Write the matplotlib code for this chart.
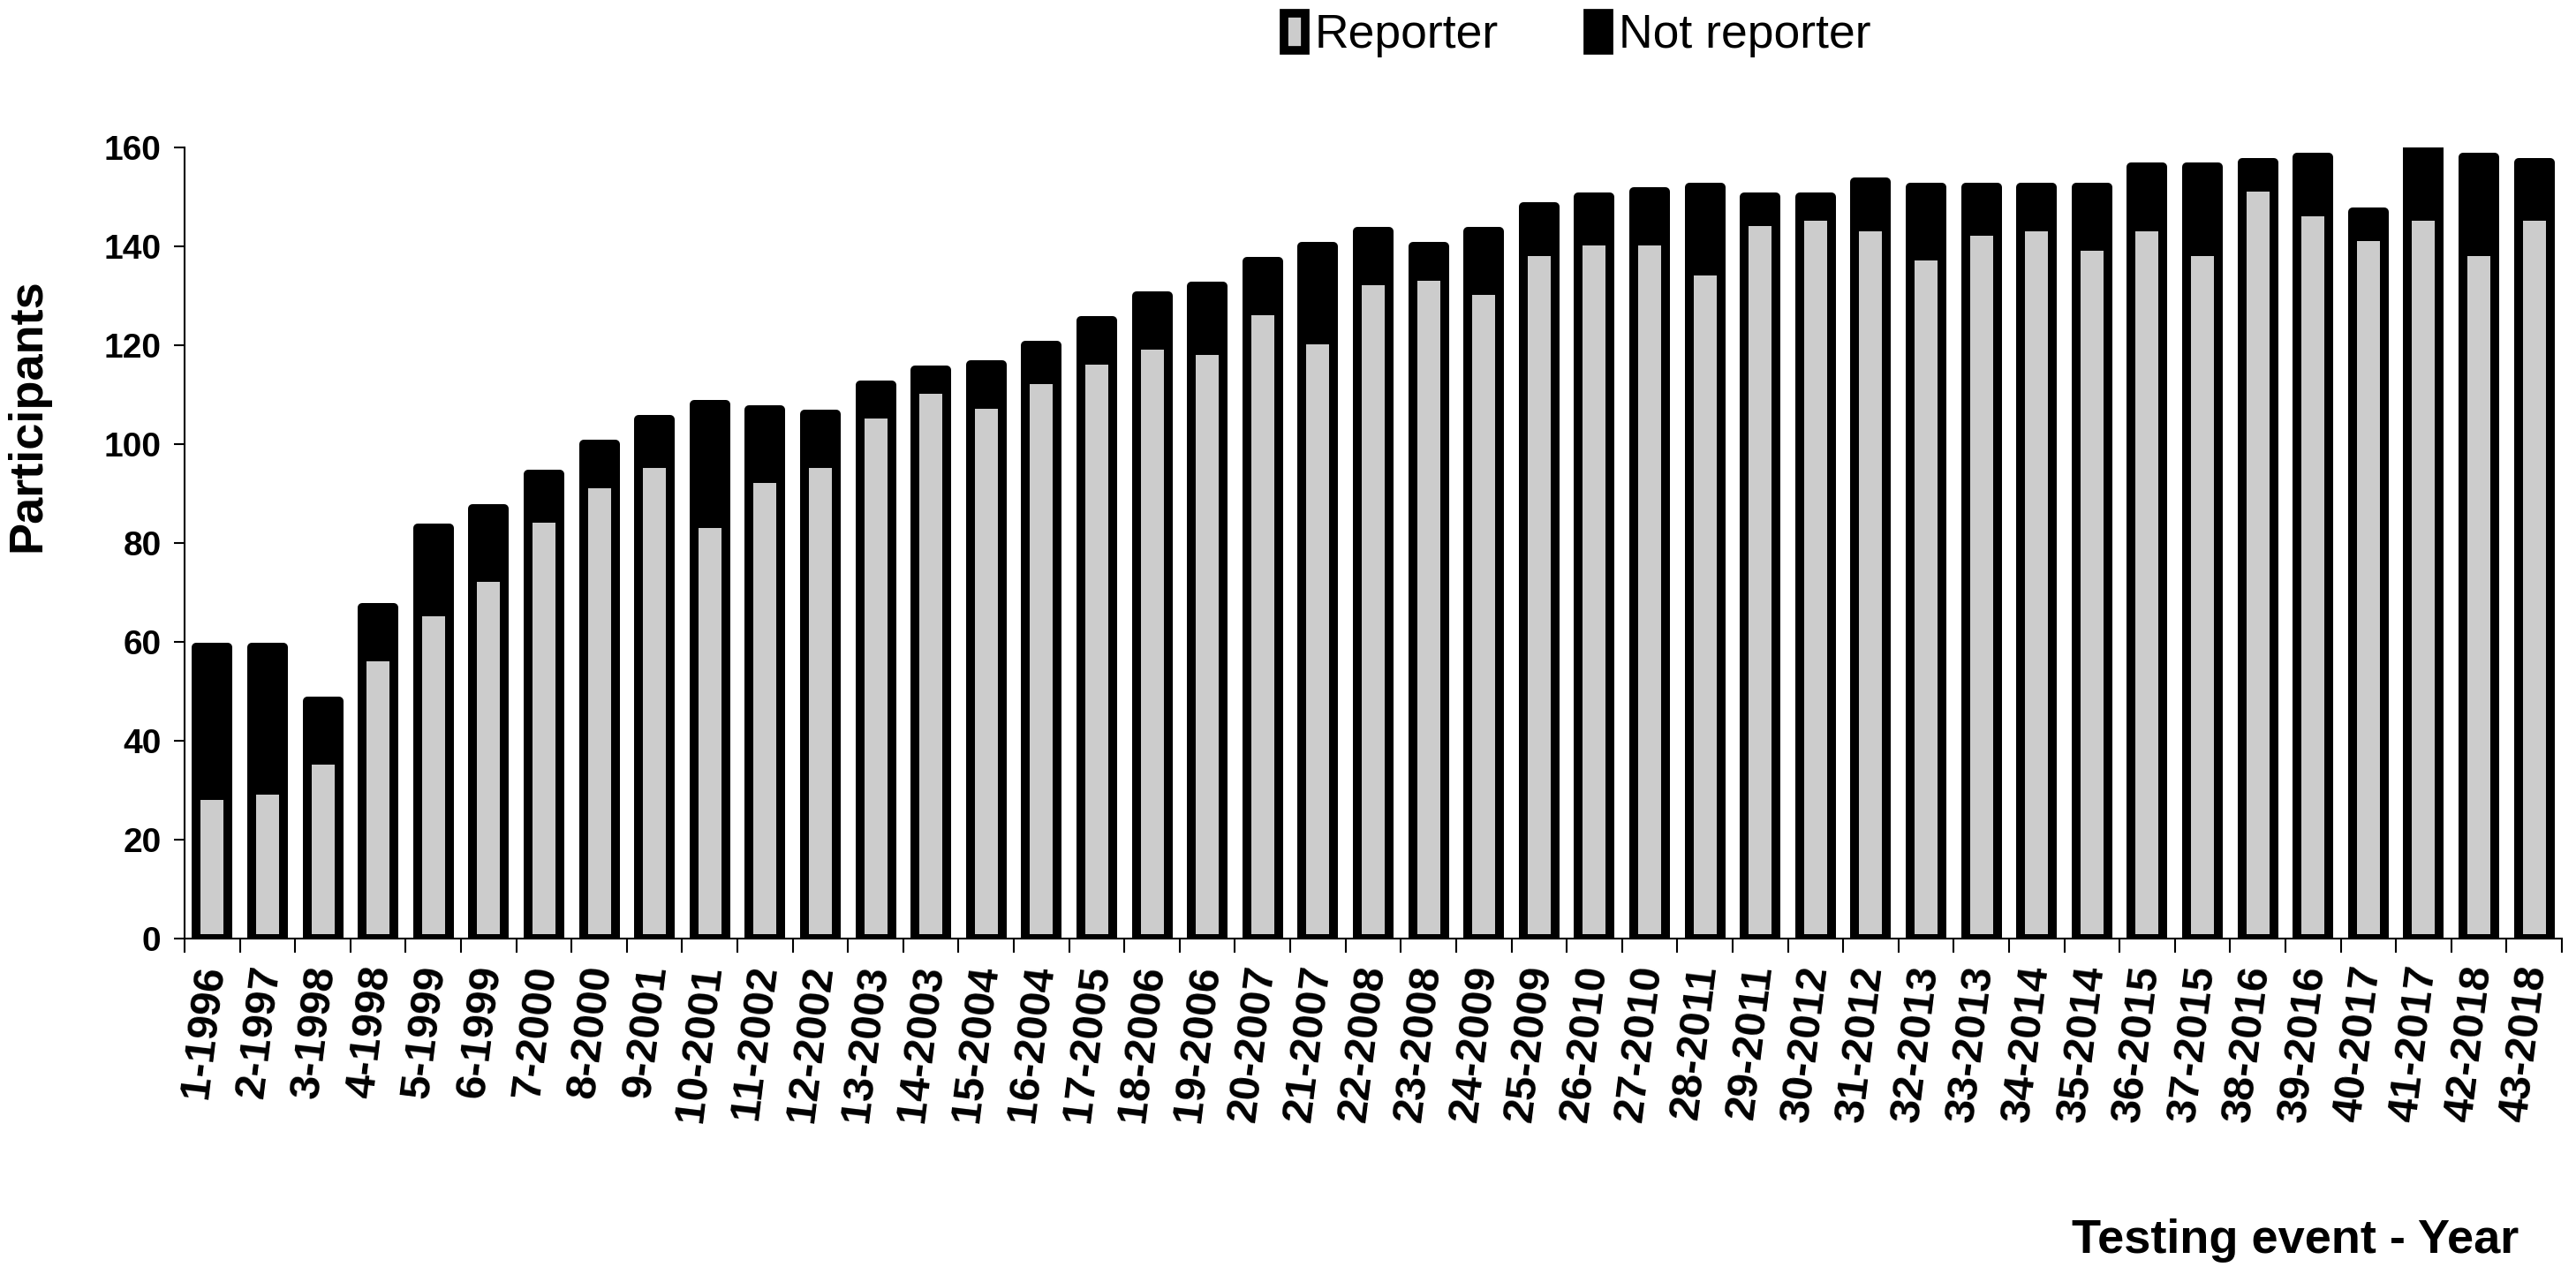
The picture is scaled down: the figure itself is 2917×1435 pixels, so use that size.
import matplotlib
matplotlib.use("Agg")
import matplotlib.pyplot as plt
from matplotlib.patches import Patch
import numpy as np

plt.rcParams['font.family'] = ['Liberation Sans', 'DejaVu Sans']

events = ["1-1996", "2-1997", "3-1998", "4-1998", "5-1999", "6-1999", "7-2000",
          "8-2000", "9-2001", "10-2001", "11-2002", "12-2002", "13-2003", "14-2003",
          "15-2004", "16-2004", "17-2005", "18-2006", "19-2006", "20-2007", "21-2007",
          "22-2008", "23-2008", "24-2009", "25-2009", "26-2010", "27-2010", "28-2011",
          "29-2011", "30-2012", "31-2012", "32-2013", "33-2013", "34-2014", "35-2014",
          "36-2015", "37-2015", "38-2016", "39-2016", "40-2017", "41-2017", "42-2018",
          "43-2018"]

# total participants per event
total = [59, 59, 48, 67, 83, 87, 94, 100, 105, 108, 107, 106, 112, 115,
         116, 120, 125, 130, 132, 137, 140, 143, 140, 143, 148, 150, 151, 152,
         150, 150, 153, 152, 152, 152, 152, 156, 156, 157, 158, 147, 161, 158,
         157]

# participants that reported results
reporter = [29, 30, 36, 57, 66, 73, 85, 92, 96, 84, 93, 96, 106, 111,
            108, 113, 117, 120, 119, 127, 121, 133, 134, 131, 139, 141, 141, 135,
            145, 146, 144, 138, 143, 144, 140, 144, 139, 152, 147, 142, 146, 139,
            146]

not_reporter = [t - r for t, r in zip(total, reporter)]

W, H = 2917, 1435
fig = plt.figure(figsize=(W / 100, H / 100), dpi=100)
ax = fig.add_axes([209 / W, 1 - 1063 / H, (2901 - 209) / W, (1063 - 167) / H])

x = np.arange(len(events))
lw = 7.2
ax.bar(x, reporter, width=0.575, color='#cccccc', edgecolor='black',
       linewidth=lw, joinstyle='round')
ax.bar(x, not_reporter, width=0.575, bottom=reporter, color='black',
       edgecolor='black', linewidth=lw, joinstyle='round')

ax.set_xlim(-0.5, len(events) - 0.5)
ax.set_ylim(0, 160)
ax.set_yticks(np.arange(0, 161, 20))

ax.set_xticks(x)
ax.set_xticks(np.arange(-0.5, len(events)), minor=True)
ax.set_xticklabels(events, rotation=83, ha='right', va='center',
                   rotation_mode='anchor', fontsize=35, fontweight='bold')
ax.tick_params(axis='x', which='major', length=0, pad=22)
ax.tick_params(axis='x', which='minor', length=11.5, width=1.5, direction='out')
ax.tick_params(axis='y', length=9, width=1.5, direction='out', pad=10,
               labelsize=28)
for lab in ax.get_yticklabels():
    lab.set_fontweight('bold')

for s in ['top', 'right']:
    ax.spines[s].set_visible(False)
for s in ['left', 'bottom']:
    ax.spines[s].set_linewidth(1.5)

fig.text(31 / W, 1 - 470 / H, "Participants", rotation=90, ha='center',
         va='center', fontsize=39, fontweight='bold')
fig.text(2852 / W, 1 - 1419 / H, "Testing event - Year", ha='right',
         va='baseline', fontsize=39, fontweight='bold')

handles = [Patch(facecolor='#cccccc', edgecolor='black', linewidth=7),
           Patch(facecolor='black', edgecolor='black', linewidth=7)]
fig.legend(handles, ["Reporter", "Not reporter"], loc='center',
           bbox_to_anchor=(1786 / W, 1 - 40 / H), ncol=2, frameon=False,
           fontsize=38.5, handlelength=0.45, handleheight=0.85,
           handletextpad=0.2, columnspacing=1.9, borderpad=0)

fig.savefig("out.png", dpi=100)
